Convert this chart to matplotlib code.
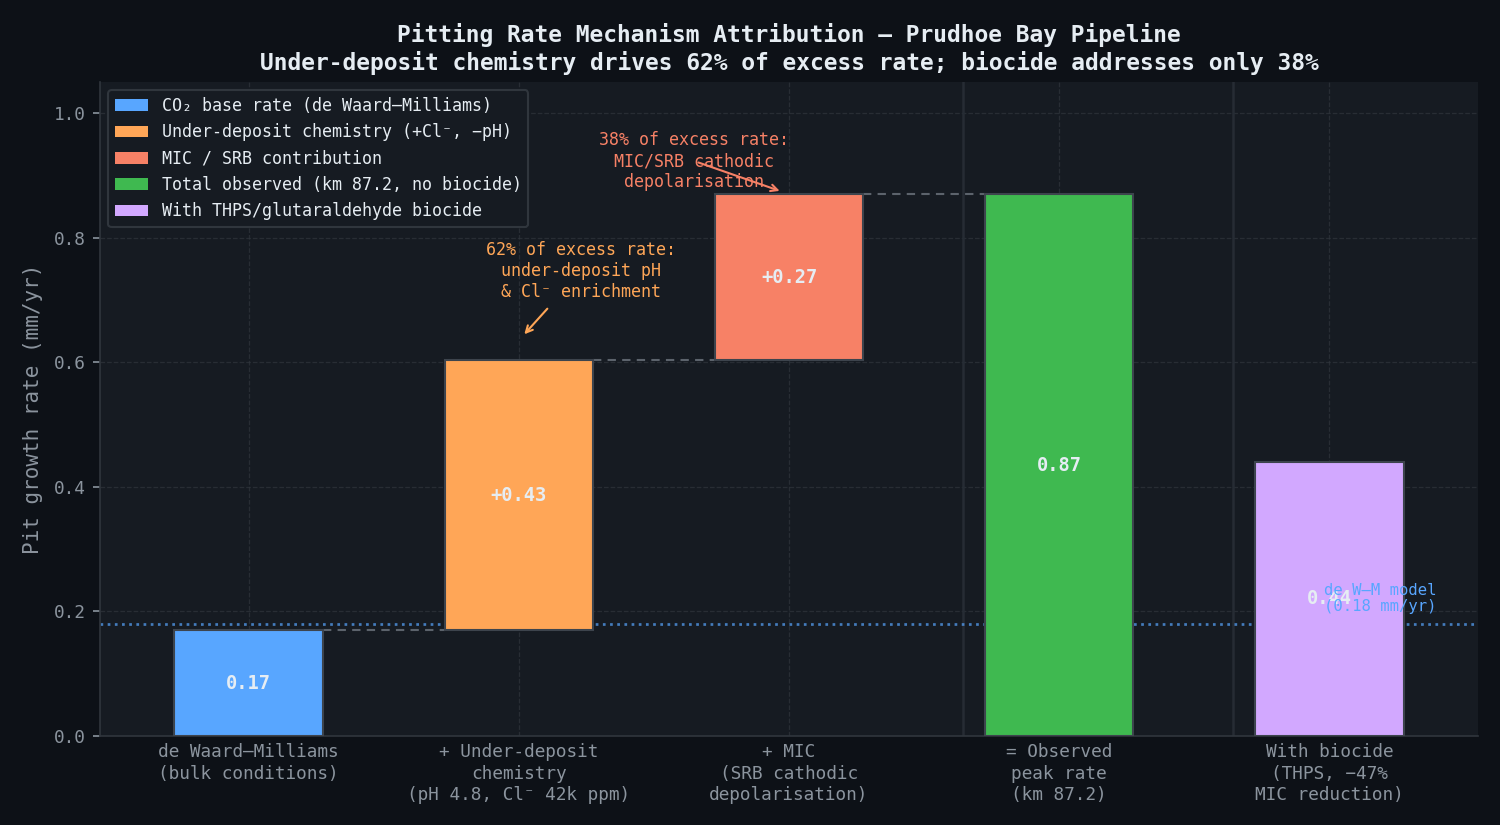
import matplotlib
matplotlib.use("Agg")
import matplotlib.pyplot as plt
from matplotlib.patches import Patch

# data
steps = ["de Waard\u2013Milliams\n(bulk conditions)",
         "+ Under-deposit\nchemistry\n(pH 4.8, Cl\u207b 42k ppm)",
         "+ MIC\n(SRB cathodic\ndepolarisation)",
         "= Observed\npeak rate\n(km 87.2)",
         "With biocide\n(THPS, \u221247%\nMIC reduction)"]
bottoms = [0.0, 0.17, 0.603, 0.0, 0.0]
heights = [0.17, 0.433, 0.267, 0.87, 0.44]
bar_text = ["0.17", "+0.43", "+0.27", "0.87", "0.44"]
legend_names = ["CO\u2082 base rate (de Waard\u2013Milliams)",
                "Under-deposit chemistry (+Cl\u207b, \u2212pH)",
                "MIC / SRB contribution",
                "Total observed (km 87.2, no biocide)",
                "With THPS/glutaraldehyde biocide"]
dwm_model = 0.18

colors = ["#58a6ff", "#ffa657", "#f78166", "#3fb950", "#d2a8ff"]
BG = "#0d1117"
AX = "#161b22"
FG = "#e6edf3"
MUTED = "#8b949e"

plt.rcParams['font.family'] = ['DejaVu Sans Mono', 'DejaVu Sans']

fig, ax = plt.subplots(figsize=(10, 5.5), dpi=150)
fig.patch.set_facecolor(BG)
ax.set_facecolor(AX)
fig.subplots_adjust(left=0.0667, right=0.9853, top=0.9006, bottom=0.1079)

x = list(range(len(steps)))
w = 0.55
bars = ax.bar(x, heights, bottom=bottoms, width=w, color=colors,
              edgecolor="#3d444d", linewidth=1.0, zorder=3)

# connectors between waterfall steps
for i in range(3):
    top = bottoms[i] + heights[i]
    ax.plot([x[i] + w / 2, x[i + 1] - w / 2], [top, top], ls=(0, (4, 3)),
            color=MUTED, alpha=0.6, lw=1.0, zorder=2)

# value labels
for i in range(len(steps)):
    ax.text(x[i], bottoms[i] + heights[i] / 2, bar_text[i], ha="center",
            va="center", color=FG, fontsize=9, fontweight="bold", zorder=5)

# separators
for xs in [2.645, 3.645]:
    ax.axvline(xs, color="#262c34", lw=1.2, zorder=1)

# model reference line
ax.axhline(dwm_model, color="#58a6ff", ls=":", lw=1.3, alpha=0.7, zorder=2)
ax.text(4.19, 0.22, "de W\u2013M model\n(0.18 mm/yr)", ha="center",
        va="center", color="#58a6ff", fontsize=7.5, linespacing=1.08, zorder=6)

# annotations
ax.annotate("62% of excess rate:\nunder-deposit pH\n& Cl\u207b enrichment",
            xy=(1.01, 0.64), xytext=(1.23, 0.746), ha="center", va="center",
            color="#ffa657", fontsize=8, zorder=6, linespacing=1.22,
            arrowprops=dict(arrowstyle="->", color="#ffa657", lw=1.0))
ax.annotate("38% of excess rate:\nMIC/SRB cathodic\ndepolarisation",
            xy=(1.98, 0.873), xytext=(1.65, 0.923), ha="center", va="center",
            color="#f78166", fontsize=8, zorder=6, linespacing=1.22,
            arrowprops=dict(arrowstyle="->", color="#f78166", lw=1.0))

ax.set_xlim(-0.55, 4.55)
ax.set_ylim(0, 1.05)
ax.set_xticks(x)
ax.set_xticklabels(steps, fontsize=8.5, color=MUTED, linespacing=1.25)
ax.set_yticks([0, 0.2, 0.4, 0.6, 0.8, 1.0])
ax.tick_params(axis="y", colors=MUTED, labelsize=8.5)
ax.tick_params(axis="x", colors=MUTED, length=0)
ax.set_ylabel("Pit growth rate (mm/yr)", color=MUTED, fontsize=10, labelpad=5)
ax.grid(True, color="#30363d", ls="--", lw=0.6, alpha=0.7, zorder=0)
ax.set_axisbelow(True)
for s in ["top", "right"]:
    ax.spines[s].set_visible(False)
for s in ["left", "bottom"]:
    ax.spines[s].set_color("#30363d")

ax.set_title("Pitting Rate Mechanism Attribution \u2014 Prudhoe Bay Pipeline\n"
             "Under-deposit chemistry drives 62% of excess rate; biocide addresses only 38%",
             color=FG, fontsize=11, fontweight="bold", pad=6)

handles = [Patch(facecolor=c, edgecolor="none") for c in colors]
leg = ax.legend(handles, legend_names, loc="upper left", fontsize=8,
                facecolor=AX, edgecolor="#30363d", labelcolor=FG,
                framealpha=1.0)
leg.set_zorder(7)

fig.savefig("out.png", dpi=150, facecolor=BG)
